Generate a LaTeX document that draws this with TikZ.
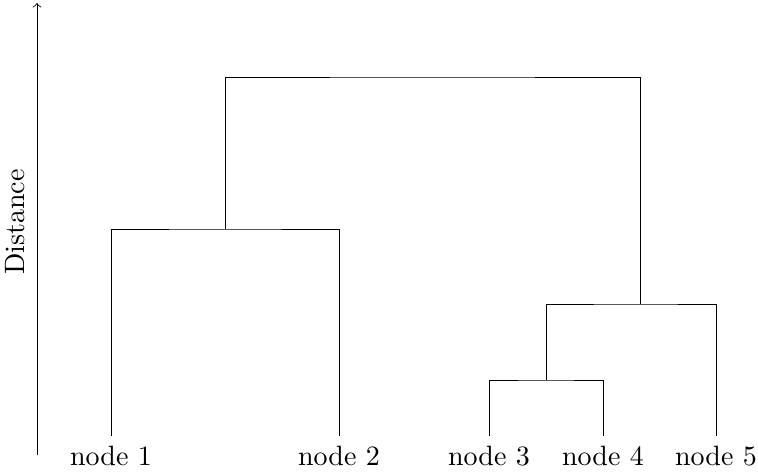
\documentclass[tikz,border=0pt]{standalone}
\begin{document}
\begin{tikzpicture}[x=0.3571pt,y=-0.3571pt,line width=0.3pt,
  leaf/.style={anchor=north,inner sep=3.33pt},
  link/.style={draw}]
\useasboundingbox (0,0) rectangle (758,472);
\coordinate (axb) at (37,455);
\coordinate (axt) at (37,3);
\draw[->] (axb) -- (axt);
\node[rotate=90] (dist) at (15,222) {Distance};
\node[leaf] (l1) at (111,436) {node 1};
\node[leaf] (l2) at (339,436) {node 2};
\node[leaf] (l3) at (489,436) {node 3};
\node[leaf] (l4) at (603,436) {node 4};
\node[leaf] (l5) at (716,436) {node 5};
\coordinate (m12) at (225,229);
\coordinate (m34) at (546,380);
\coordinate (m345) at (640,304);
\coordinate (root) at (432,77);
\draw[link] (l1.north) |- (m12) -| (l2.north);
\draw[link] (l3.north) |- (m34) -| (l4.north);
\draw[link] (m34) |- (m345) -| (l5.north);
\draw[link] (m12) |- (root) -| (m345);
\end{tikzpicture}
\end{document}
